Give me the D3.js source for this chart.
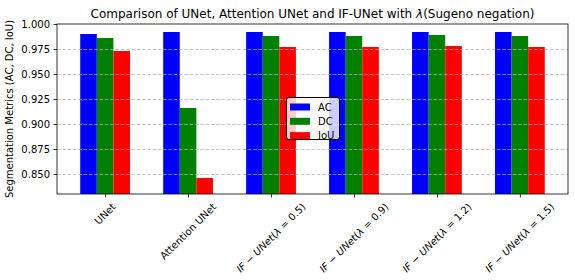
<!DOCTYPE html>
<html>
<head>
<meta charset="utf-8">
<script src="https://cdn.jsdelivr.net/npm/d3@7"></script>
<style>
  html, body { margin: 0; padding: 0; background: #fff; }
  svg { display: block; font-family: "DejaVu Sans", sans-serif; }
</style>
</head>
<body>
<svg id="chart" width="575" height="280"></svg>
<script>
// ---- data ----
const categories = ["UNet", "Attention UNet", "IF-UNet(0.5)", "IF-UNet(0.9)", "IF-UNet(1.2)", "IF-UNet(1.5)"];
const lambdaLabels = [null, null, "0.5", "0.9", "1.2", "1.5"];
const seriesNames = ["AC", "DC", "IoU"];
const acValues  = [0.990, 0.992, 0.992, 0.992, 0.992, 0.992];
const dcValues  = [0.986, 0.916, 0.988, 0.988, 0.989, 0.988];
const iouValues = [0.973, 0.846, 0.977, 0.977, 0.978, 0.977];
const seriesColors = ["#0000ff", "#008000", "#ff0000"];
const yTicks = [0.850, 0.875, 0.900, 0.925, 0.950, 0.975, 1.000];
const yDomain = [0.83, 1.0];

const series = [acValues, dcValues, iouValues];

// ---- layout ----
const svg = d3.select("#chart");
const L = 57, R = 568, T = 24, B = 194;
const barW = 0.2;

const x = d3.scaleLinear().domain([-0.58, categories.length - 1 + 0.58]).range([L, R]);
const y = d3.scaleLinear().domain(yDomain).range([B, T]);

svg.append("rect").attr("width", 575).attr("height", 280).attr("fill", "#fff");

// bars
series.forEach((vals, si) => {
  svg.append("g").selectAll("rect").data(vals).join("rect")
    .attr("x", (d, i) => x(i + (si - 1) * barW - barW / 2))
    .attr("width", x(barW) - x(0))
    .attr("y", d => y(d))
    .attr("height", d => B - y(d))
    .attr("fill", seriesColors[si]);
});

// grid (above bars, like matplotlib)
const grid = svg.append("g");
grid.selectAll("line").data(yTicks.filter(t => t < 1.0)).join("line")
  .attr("x1", L).attr("x2", R)
  .attr("y1", d => y(d) + 0.5).attr("y2", d => y(d) + 0.5)
  .attr("stroke", "#b0b0b0").attr("stroke-opacity", 0.7)
  .attr("stroke-width", 1).attr("stroke-dasharray", "3.7,1.6");

// y axis
const yAxis = d3.axisLeft(y).tickValues(yTicks).tickFormat(d3.format(".3f")).tickSize(3.5).tickPadding(3.5);
const gy = svg.append("g").attr("transform", `translate(${L},0)`).call(yAxis);
gy.select(".domain").remove();
gy.selectAll(".tick line").attr("stroke", "#000").attr("stroke-width", 0.8);
gy.selectAll(".tick text").attr("font-size", 10).attr("fill", "#000")
  .attr("font-family", "DejaVu Sans");

// x axis ticks
const xAxis = d3.axisBottom(x).tickValues(d3.range(categories.length)).tickSize(3.5).tickFormat("");
const gx = svg.append("g").attr("transform", `translate(0,${B})`).call(xAxis);
gx.select(".domain").remove();
gx.selectAll(".tick line").attr("stroke", "#000").attr("stroke-width", 0.8);

// x tick labels (rotated 45, bbox centred under tick)
const labG = svg.append("g").attr("font-size", 10).attr("fill", "#000");
categories.forEach((c, i) => {
  const g = labG.append("g");
  const t = g.append("text").attr("text-anchor", "middle").attr("dy", "0.35em");
  const lam = lambdaLabels[i];
  if (lam === null) {
    t.text(c);
  } else {
    t.append("tspan").attr("font-style", "italic").text("IF");
    t.append("tspan").text(" \u2212 ");
    t.append("tspan").attr("font-style", "italic").text("UNet");
    t.append("tspan").text("(");
    t.append("tspan").attr("font-style", "italic").text("\u03bb");
    t.append("tspan").text(" = " + lam + ")");
  }
  const w = t.node().getComputedTextLength();
  const h = 11.6;
  const H = (w + h) * Math.SQRT1_2;
  const cx = x(i), cy = B + 3.5 + 3.5 + H / 2;
  g.attr("transform", `translate(${cx},${cy}) rotate(-45)`);
});

// spines
svg.append("rect").attr("x", L).attr("y", T).attr("width", R - L).attr("height", B - T)
  .attr("fill", "none").attr("stroke", "#000").attr("stroke-width", 0.8);

// y label
svg.append("text")
  .attr("transform", `translate(9,${(T + B) / 2}) rotate(-90)`)
  .attr("text-anchor", "middle").attr("dy", "0.35em")
  .attr("font-size", 10).attr("fill", "#000")
  .text("Segmentation Metrics (AC, DC, IoU)");

// title
const title = svg.append("text")
  .attr("x", (L + R) / 2).attr("y", 18)
  .attr("text-anchor", "middle").attr("font-size", 12).attr("fill", "#000");
title.append("tspan").text("Comparison of UNet, Attention UNet and IF-UNet with ");
title.append("tspan").attr("font-style", "italic").text("\u03bb");
title.append("tspan").text("(Sugeno negation)");

// legend
const lg = svg.append("g").attr("transform", "translate(286,97)");
lg.append("rect").attr("x", 0.5).attr("y", 0.5).attr("width", 53).attr("height", 42)
  .attr("rx", 2.5).attr("fill", "#fff").attr("fill-opacity", 0.8)
  .attr("stroke", "#000").attr("stroke-width", 1);
seriesNames.forEach((n, i) => {
  const cy = 10 + i * 14.3;
  lg.append("rect").attr("x", 4).attr("y", cy - 3.5).attr("width", 20).attr("height", 7)
    .attr("fill", seriesColors[i]);
  lg.append("text").attr("x", 32).attr("y", cy).attr("dy", "0.35em")
    .attr("font-size", 10).attr("fill", "#000").text(n);
});
</script>
</body>
</html>
